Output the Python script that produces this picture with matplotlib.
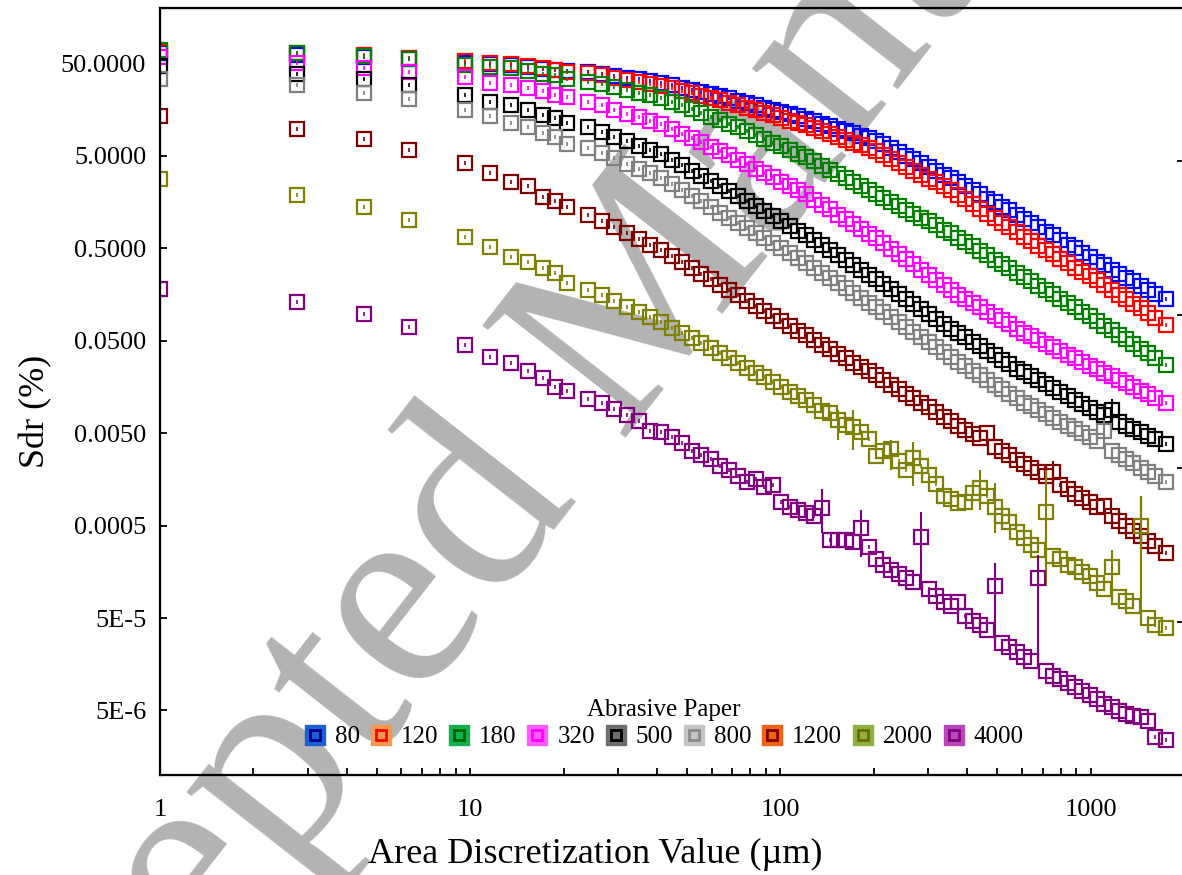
import matplotlib
matplotlib.use("Agg")
import matplotlib.pyplot as plt
from matplotlib.lines import Line2D
from matplotlib.legend_handler import HandlerTuple
from matplotlib.ticker import FixedLocator, LogLocator, NullFormatter, NullLocator

plt.rcParams['font.family'] = ['Liberation Serif', 'DejaVu Serif']

# area discretization values (um), shared by all papers
x_um = [1, 2.77, 4.55, 6.33, 9.63, 11.6, 13.5, 15.3, 17.1, 18.7, 20.5,
        24.0, 26.5, 29.1, 32.0, 35.0, 38.1, 41.3, 44.7, 48.1, 51.8,
        55.6, 59.7, 64.0, 68.5, 73.2, 78.3, 83.4, 88.8, 94.6, 100.7,
        107.3, 113.9, 120.9, 128.3, 136.1, 144.4, 153.3, 162.7, 172.0, 181.8,
        192.3, 203.3, 214.9, 227.3, 240.3, 254.0, 268.5, 284.0, 300.2, 317.4,
        335.6, 354.3, 374.1, 395.0, 416.9, 440.1, 464.6, 490.5, 517.8, 546.6,
        577.1, 609.3, 643.3, 679.0, 717.0, 756.8, 799.0, 843.6, 890.6, 940.2,
        992.7, 1048, 1106, 1168, 1233, 1302, 1374, 1451, 1532, 1617, 1745]

sdr_80 = [65.7, 62.6, 59.5, 56.7, 51.3, 50.0, 48.8, 46.4, 44.2, 43.1, 42.0,
          40.4, 38.6, 36.9, 35.2, 33.8, 32.4, 30.9, 29.2, 27.5, 26.1,
          24.7, 23.4, 22.2, 21.1, 19.9, 18.7, 17.6, 16.7, 15.8, 14.9,
          14.1, 13.4, 12.7, 11.9, 11.2, 10.5, 9.9, 9.3, 8.8, 8.3,
          7.8, 7.35, 6.75, 6.1, 5.55, 5.05, 4.6, 4.2, 3.8, 3.47,
          3.15, 2.87, 2.6, 2.35, 2.13, 1.92, 1.73, 1.57, 1.42, 1.29,
          1.16, 1.04, 0.94, 0.85, 0.76, 0.69, 0.61, 0.55, 0.50, 0.45,
          0.40, 0.36, 0.33, 0.295, 0.266, 0.24, 0.22, 0.197, 0.178, 0.16, 0.14]

sdr_120 = [67.4, 65.7, 62.6, 58.1, 53.9, 51.3, 50.0, 47.6, 45.3, 43.1, 41.0,
           39.4, 37.2, 35.3, 33.4, 31.8, 30.1, 28.8, 26.9, 25.3, 23.8,
           22.4, 21.2, 20.0, 18.8, 17.6, 16.6, 15.6, 14.6, 13.8, 12.9,
           12.1, 11.4, 10.7, 9.98, 9.29, 8.64, 8.0, 7.43, 6.95, 6.5,
           6.05, 5.6, 5.1, 4.63, 4.2, 3.8, 3.46, 3.15, 2.85, 2.6,
           2.35, 2.14, 1.9, 1.7, 1.5, 1.34, 1.19, 1.06, 0.945, 0.85,
           0.75, 0.665, 0.6, 0.535, 0.48, 0.43, 0.386, 0.346, 0.31, 0.28,
           0.25, 0.225, 0.2, 0.178, 0.158, 0.14, 0.125, 0.112, 0.099, 0.088, 0.075]

sdr_180 = [70.9, 65.7, 61.0, 56.7, 48.8, 46.4, 45.3, 42.0, 39.0, 38.0, 34.4,
           31.9, 29.7, 27.7, 25.8, 24.2, 22.7, 21.2, 19.3, 17.6, 16.0,
           14.6, 13.3, 12.3, 11.2, 10.2, 9.25, 8.43, 7.66, 6.97, 6.35,
           5.78, 5.3, 4.85, 4.36, 3.93, 3.53, 3.19, 2.87, 2.6, 2.36,
           2.13, 1.92, 1.75, 1.59, 1.44, 1.31, 1.18, 1.07, 0.98, 0.886,
           0.80, 0.727, 0.653, 0.585, 0.525, 0.472, 0.423, 0.379, 0.34, 0.305,
           0.273, 0.245, 0.22, 0.198, 0.177, 0.159, 0.143, 0.128, 0.115, 0.103,
           0.092, 0.082, 0.073, 0.065, 0.058, 0.052, 0.046, 0.041, 0.0365, 0.0324, 0.0276]

sdr_320 = [59.5, 51.3, 45.3, 41.0, 36.2, 31.1, 29.0, 26.9, 25.0, 23.1, 21.5,
           19.4, 17.6, 15.9, 14.4, 13.1, 12.1, 11.0, 9.82, 8.75, 7.8,
           7.0, 6.28, 5.63, 5.1, 4.56, 4.07, 3.64, 3.28, 2.94, 2.62,
           2.36, 2.13, 1.92, 1.69, 1.49, 1.32, 1.16, 1.03, 0.91, 0.814,
           0.722, 0.643, 0.565, 0.497, 0.436, 0.382, 0.335, 0.294, 0.258, 0.227,
           0.199, 0.176, 0.158, 0.142, 0.128, 0.115, 0.103, 0.0929, 0.0837, 0.0751,
           0.0676, 0.061, 0.0558, 0.051, 0.0466, 0.0425, 0.0389, 0.0354, 0.0324, 0.0295,
           0.027, 0.0246, 0.0225, 0.0206, 0.0189, 0.0173, 0.0158, 0.0144, 0.0132, 0.0121, 0.0107]

sdr_500 = [47.6, 39.0, 34.4, 29.0, 23.1, 19.4, 17.6, 15.9, 14.0, 13.0, 11.5,
           10.2, 9.05, 8.08, 7.22, 6.48, 5.82, 5.25, 4.55, 3.98, 3.47,
           3.06, 2.68, 2.36, 2.09, 1.84, 1.62, 1.43, 1.27, 1.12, 0.985,
           0.872, 0.776, 0.69, 0.61, 0.538, 0.475, 0.42, 0.37, 0.329, 0.293,
           0.26, 0.232, 0.205, 0.181, 0.16, 0.142, 0.125, 0.111, 0.098, 0.0868,
           0.0766, 0.0679, 0.0609, 0.0545, 0.0487, 0.0437, 0.039, 0.035, 0.0312, 0.0279,
           0.025, 0.0227, 0.0206, 0.0186, 0.0169, 0.0153, 0.0139, 0.0126, 0.0114, 0.0103,
           0.0093, 0.0085, 0.0078, 0.009, 0.0066, 0.006, 0.0055, 0.0051, 0.0047, 0.0043, 0.0038]

sdr_800 = [34.4, 29.0, 24.1, 20.9, 15.9, 13.4, 11.5, 10.2, 8.96, 8.1, 6.8,
           6.17, 5.42, 4.72, 4.14, 3.65, 3.25, 2.88, 2.47, 2.14, 1.85,
           1.61, 1.4, 1.22, 1.07, 0.94, 0.823, 0.73, 0.643, 0.57, 0.505,
           0.446, 0.396, 0.351, 0.31, 0.273, 0.24, 0.211, 0.186, 0.164, 0.146,
           0.129, 0.115, 0.102, 0.09, 0.0792, 0.0698, 0.0616, 0.0545, 0.048, 0.0424,
           0.0374, 0.0332, 0.0296, 0.0265, 0.0236, 0.0211, 0.0188, 0.0168, 0.0149, 0.0133,
           0.0119, 0.0107, 0.0098, 0.0089, 0.0081, 0.0073, 0.0066, 0.006, 0.0055, 0.005,
           0.0045, 0.0041, 0.0053, 0.0032, 0.0029, 0.0026, 0.00235, 0.00212, 0.0019, 0.0017, 0.00147]

sdr_1200 = [13.4, 9.9, 7.7, 5.74, 4.2, 3.28, 2.64, 2.36, 1.82, 1.63, 1.39,
            1.16, 0.993, 0.846, 0.729, 0.631, 0.549, 0.48, 0.41, 0.356, 0.308,
            0.267, 0.233, 0.203, 0.178, 0.156, 0.136, 0.12, 0.106, 0.0933, 0.0821,
            0.0725, 0.0643, 0.0571, 0.051, 0.0455, 0.0406, 0.0363, 0.0324, 0.0291, 0.0261,
            0.0235, 0.0212, 0.0189, 0.0168, 0.015, 0.0133, 0.0119, 0.0106, 0.0095, 0.0084,
            0.0075, 0.0067, 0.006, 0.0054, 0.0049, 0.0044, 0.005, 0.00356, 0.0032, 0.00288,
            0.00259, 0.00233, 0.0021, 0.00188, 0.0017, 0.0019, 0.00137, 0.00124, 0.00111, 0.001,
            0.0009, 0.0008, 0.00082, 0.00063, 0.00056, 0.0005, 0.00044, 0.00039, 0.00034, 0.0003, 0.000255]

sdr_2000 = [2.85, 1.91, 1.39, 1.025, 0.672, 0.523, 0.408, 0.359, 0.31, 0.273, 0.212,
            0.179, 0.155, 0.134, 0.116, 0.102, 0.09, 0.0795, 0.0692, 0.0607, 0.0534,
            0.0471, 0.0416, 0.0367, 0.0326, 0.0288, 0.0255, 0.0226, 0.0202, 0.0179, 0.0159,
            0.0141, 0.0127, 0.0113, 0.0102, 0.0086, 0.0082, 0.0070, 0.0062, 0.0058, 0.0052,
            0.0043, 0.0028, 0.0032, 0.0034, 0.0025, 0.002, 0.0027, 0.0022, 0.00175, 0.00142,
            0.00104, 0.00096, 0.00087, 0.00089, 0.00113, 0.00128, 0.00104, 0.00079, 0.00064, 0.00055,
            0.00043, 0.00037, 0.00031, 0.000275, 0.00071, 0.000237, 0.000215, 0.000189, 0.000176, 0.000159,
            0.000141, 0.000121, 0.000102, 0.00018, 8.4e-5, 7.6e-5, 6.8e-5, 4.9e-4, 5.0e-5, 4.25e-5, 3.85e-5]

sdr_4000 = [0.183, 0.133, 0.098, 0.0714, 0.0455, 0.0336, 0.0286, 0.0233, 0.0200, 0.016, 0.0142,
            0.0116, 0.0105, 0.0092, 0.0078, 0.0067, 0.0053, 0.0051, 0.0045, 0.0039, 0.0032,
            0.0029, 0.0026, 0.0022, 0.002, 0.0017, 0.0015, 0.00158, 0.00132, 0.00136, 0.00089,
            0.0008, 0.00073, 0.00069, 0.00064, 0.00078, 0.000353, 0.000345, 0.000345, 0.000336, 0.00047,
            0.00029, 0.000215, 0.000185, 0.000167, 0.000148, 0.000137, 0.000124, 0.00038, 0.000102, 8.6e-5,
            7.4e-5, 6.8e-5, 7.4e-5, 5.2e-5, 4.6e-5, 4.15e-5, 3.75e-5, 1.1e-4, 2.7e-5, 2.4e-5,
            2.15e-5, 1.9e-5, 1.7e-5, 1.37e-4, 1.32e-5, 1.19e-5, 1.08e-5, 9.8e-6, 8.9e-6, 8.2e-6,
            7.3e-6, 6.6e-6, 5.9e-6, 5.4e-6, 4.9e-6, 4.6e-6, 4.4e-6, 4.2e-6, 3.8e-6, 2.6e-6, 2.42e-6]

# the few points with long error bars (index into x_um, low, high)
err_2000_idx = [37, 39, 44, 47, 56, 58, 65, 74, 78]
err_2000_lo = [0.00427, 0.0033, 0.002, 0.00134, 7.3e-4, 4.2e-4, 1.1e-4, 7.9e-5, 5.45e-5]
err_2000_hi = [0.009, 0.009, 0.00427, 0.004, 0.002, 0.00146, 0.00202, 2.75e-4, 0.00104]
err_4000_idx = [35, 40, 48, 58, 64]
err_4000_lo = [4.2e-4, 2.3e-4, 1.02e-4, 2.92e-5, 1.78e-5]
err_4000_hi = [1.25e-3, 7.46e-4, 7.1e-4, 1.98e-4, 2.43e-4]
err_1200_idx = [66, 78]
err_1200_lo = [0.00132, 3.53e-4]
err_1200_hi = [0.00247, 0.00104]
err_500_idx = [74]
err_500_lo = [0.0062]
err_500_hi = [0.0116]
err_800_idx = [73]
err_800_lo = [0.0038]
err_800_hi = [0.007]

papers = ['80', '120', '180', '320', '500', '800', '1200', '2000', '4000']
series = [sdr_80, sdr_120, sdr_180, sdr_320, sdr_500, sdr_800, sdr_1200, sdr_2000, sdr_4000]
colors = ['#0000ff', '#ff0000', '#008000', '#ff00ff', '#000000', '#808080', '#800000', '#808000', '#800080']
legend_fill = ['#1a5fd6', '#f39a4e', '#12b04e', '#ff5cff', '#6e6e6e', '#c4c4c4', '#ee6414', '#8db040', '#b848b8']
legend_inner = ['#00008b', '#ff0000', '#006400', '#ff00ff', '#000000', '#8a8a8a', '#800000', '#6b6b00', '#800080']
errs = {'1200': (err_1200_idx, err_1200_lo, err_1200_hi),
        '2000': (err_2000_idx, err_2000_lo, err_2000_hi),
        '4000': (err_4000_idx, err_4000_lo, err_4000_hi),
        '500': (err_500_idx, err_500_lo, err_500_hi),
        '800': (err_800_idx, err_800_lo, err_800_hi)}

fig = plt.figure(figsize=(11.82, 8.75), dpi=100)
ax = fig.add_axes([0.1354, 0.1143, 0.8663, 0.8766])
ax.set_facecolor('none')

# watermark behind everything
fig.text(0.520, 0.606, 'Accepted Manuscript', rotation=52, rotation_mode='anchor',
         ha='center', va='center', fontsize=200, color='#b3b3b3', zorder=-5)

for lab, ys, col in zip(papers, series, colors):
    ax.plot(x_um, ys, ls='none', marker='s', ms=9.5, mfc='none', mec=col, mew=1.6, zorder=3)
    ax.plot(x_um, ys, ls='none', marker='|', ms=3, mec=col, mew=1.2, zorder=3)
    if lab in errs:
        idx, lo, hi = errs[lab]
        ax.vlines([x_um[i] for i in idx], lo, hi, colors=col, lw=1.5, zorder=3)

ax.set_xscale('log')
ax.set_yscale('log')
ax.set_xlim(1, 2000)
ax.set_ylim(1e-6, 200)

ax.xaxis.set_major_locator(FixedLocator([1, 10, 100, 1000]))
ax.set_xticklabels(['1', '10', '100', '1000'])
ax.xaxis.set_minor_locator(LogLocator(base=10, subs=[2, 3, 4, 5, 6, 7, 8, 9], numticks=20))
ax.xaxis.set_minor_formatter(NullFormatter())
ax.yaxis.set_major_locator(FixedLocator([50, 5, 0.5, 0.05, 0.005, 0.0005, 5e-5, 5e-6]))
ax.set_yticklabels(['50.0000', '5.0000', '0.5000', '0.0500', '0.0050', '0.0005', '5E-5', '5E-6'])
ax.yaxis.set_minor_locator(NullLocator())
ax.tick_params(axis='both', which='both', direction='in', length=5, width=1.3, labelsize=19)
ax.tick_params(axis='x', pad=17)
ax.tick_params(axis='y', pad=10)
ax.tick_params(right=False, top=False)
for sp in ax.spines.values():
    sp.set_linewidth(1.6)

# right axis only shows its inward ticks
ax2 = ax.twinx()
ax2.set_ylim(0, 1)
ax2.set_yticks([0.2, 0.4, 0.6, 0.8])
ax2.set_yticklabels([])
ax2.tick_params(direction='in', length=5, width=1.3)

fig.text(0.504, 0.023, 'Area Discretization Value (µm)', ha='center', va='center', fontsize=26)
fig.text(0.030, 0.530, 'Sdr (%)', ha='center', va='center', rotation=90, fontsize=26)

handles = []
for fc, ic in zip(legend_fill, legend_inner):
    big = Line2D([], [], ls='none', marker='s', ms=15, mfc=fc, mec=fc, mew=1)
    small = Line2D([], [], ls='none', marker='s', ms=6.5, mfc='none', mec=ic, mew=2)
    handles.append((big, small))
ax.legend(handles, papers, handler_map={tuple: HandlerTuple(ndivide=1, pad=0)},
          loc='lower center', bbox_to_anchor=(0.492, 0.012), ncol=9, frameon=False,
          title='Abrasive Paper', title_fontsize=18, fontsize=18,
          handlelength=0.9, handletextpad=0.35, columnspacing=0.38, borderpad=0.2,
          labelspacing=0.2)

fig.savefig('out.png', dpi=100)
